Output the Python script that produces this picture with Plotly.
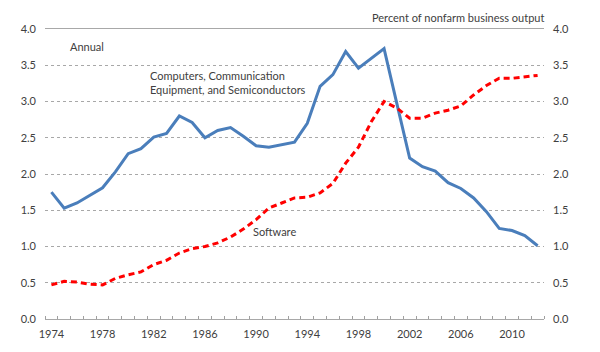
import plotly.graph_objects as go

years = list(range(1974, 2013))
computers = [1.75, 1.53, 1.60, 1.71, 1.81, 2.03, 2.28, 2.35, 2.51, 2.56,
             2.80, 2.71, 2.50, 2.60, 2.64, 2.52, 2.39, 2.37, 2.40, 2.44,
             2.70, 3.21, 3.37, 3.69, 3.46, 3.60, 3.73, 2.97, 2.22, 2.10,
             2.04, 1.88, 1.80, 1.67, 1.48, 1.25, 1.22, 1.15, 1.01]
software = [0.47, 0.52, 0.51, 0.48, 0.47, 0.56, 0.61, 0.65, 0.75, 0.81,
            0.91, 0.97, 1.00, 1.05, 1.13, 1.24, 1.37, 1.53, 1.60, 1.67,
            1.68, 1.74, 1.87, 2.15, 2.37, 2.72, 3.00, 2.91, 2.77, 2.77,
            2.84, 2.88, 2.94, 3.09, 3.22, 3.32, 3.32, 3.34, 3.36]
xtick_years = list(range(1974, 2013, 4))
ytick_vals = [i * 0.5 for i in range(9)]

txt = "#404040"
font = "Lato"

fig = go.Figure()
fig.add_trace(go.Scatter(x=years, y=computers, mode="lines",
                         line=dict(color="#4a7ebb", width=3), yaxis="y"))
fig.add_trace(go.Scatter(x=years, y=software, mode="lines",
                         line=dict(color="#ff0000", width=3, dash="6px,4px"), yaxis="y2"))

fig.update_layout(
    width=600, height=352,
    margin=dict(l=45, r=56, t=29, b=33),
    paper_bgcolor="white", plot_bgcolor="white",
    showlegend=False,
    font=dict(family=font, size=11, color=txt),
    xaxis=dict(range=[1973.5, 2012.5], tickvals=xtick_years,
               ticktext=[str(y) for y in xtick_years], ticks="",
               showgrid=False, zeroline=False,
               showline=True, linecolor="#a8a8a8", linewidth=1, mirror=True,
               ticklabelstandoff=5,
               tickfont=dict(family=font, size=11, color=txt),
               minor=dict(tick0=1973.5, dtick=1, ticks="inside", ticklen=3,
                          tickcolor="#a0a0a0", showgrid=False)),
    yaxis=dict(range=[0, 4], tickvals=ytick_vals, tickformat=".1f",
               showgrid=True, gridcolor="#a8a8a8", griddash="dot", gridwidth=1,
               zeroline=False, showline=False, ticks="",
               ticklabelstandoff=8,
               tickfont=dict(family=font, size=11, color=txt)),
    yaxis2=dict(range=[0, 4], tickvals=ytick_vals, tickformat=".1f",
                overlaying="y", side="right", showgrid=False, zeroline=False,
                showline=False, ticks="", ticklabelstandoff=8,
                tickfont=dict(family=font, size=11, color=txt)),
    annotations=[
        dict(text="Percent of nonfarm business output", xref="paper", yref="paper",
             x=1.004, y=1.038, xanchor="right", yanchor="middle", showarrow=False,
             font=dict(family=font, size=11, color=txt)),
        dict(text="Annual", xref="paper", yref="paper", x=0.046, y=0.941,
             xanchor="left", yanchor="middle", showarrow=False,
             font=dict(family=font, size=11, color=txt)),
        dict(text="Computers, Communication<br>Equipment, and Semiconductors",
             xref="paper", yref="paper", x=0.206, y=0.814, xanchor="left",
             yanchor="middle", align="left", showarrow=False,
             font=dict(family=font, size=11, color=txt)),
        dict(text="Software", xref="paper", yref="paper", x=0.413, y=0.303,
             xanchor="left", yanchor="middle", showarrow=False,
             font=dict(family=font, size=11, color=txt)),
    ],
)

fig.write_html("out.html")
